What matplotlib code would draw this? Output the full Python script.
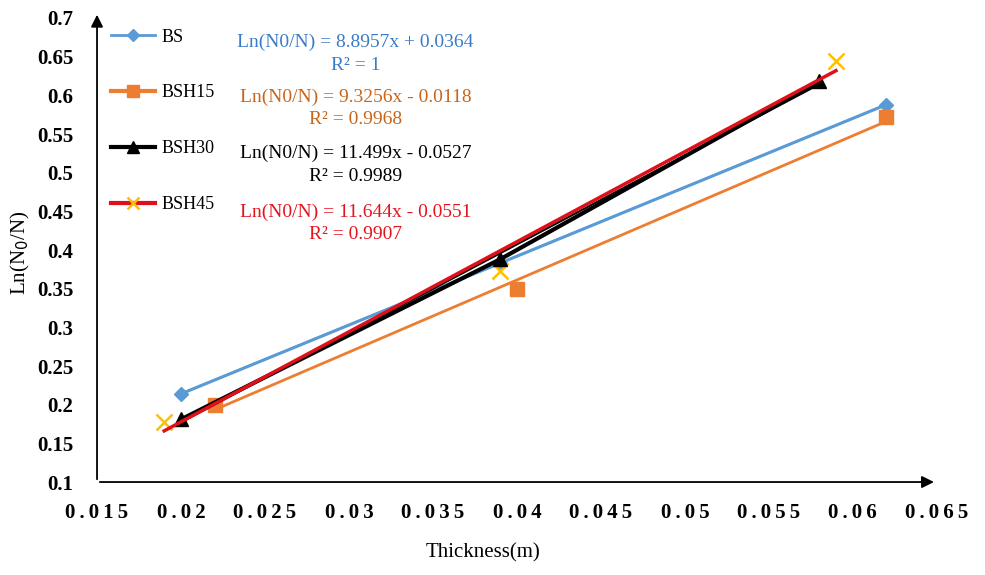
import matplotlib
matplotlib.use("Agg")
import matplotlib.pyplot as plt
from matplotlib.lines import Line2D
import numpy as np

plt.rcParams["font.family"] = ["Liberation Serif", "DejaVu Serif"]

# data
series = ["BS", "BSH15", "BSH30", "BSH45"]
bs_x = [0.020, 0.039, 0.062]
bs_y = [0.214, 0.383, 0.588]
bsh15_x = [0.022, 0.040, 0.062]
bsh15_y = [0.200, 0.349, 0.572]
bsh30_x = [0.020, 0.039, 0.058]
bsh30_y = [0.181, 0.388, 0.618]
bsh45_x = [0.019, 0.039, 0.059]
bsh45_y = [0.178, 0.373, 0.645]

slopes = [8.8957, 9.3256, 11.499, 11.644]
intercepts = [0.0364, -0.0118, -0.0527, -0.0551]
r2 = ["1", "0.9968", "0.9989", "0.9907"]

x_ticks = [0.015, 0.02, 0.025, 0.03, 0.035, 0.04, 0.045, 0.05, 0.055, 0.06, 0.065]
y_ticks = [0.1, 0.15, 0.2, 0.25, 0.3, 0.35, 0.4, 0.45, 0.5, 0.55, 0.6, 0.65, 0.7]

BLUE, ORANGE, BLACK, RED, YELLOW = "#5B9BD5", "#ED7D31", "#000000", "#E0101A", "#FFC000"
TXT = ["#3A7BC8", "#C8651B", "#000000", "#E3141E"]

fig = plt.figure(figsize=(9.85, 5.75), dpi=100)
ax = fig.add_axes([0.0985, 0.1617, 0.8525, 0.807])

# series + linear trendlines
ax.plot(bs_x, bs_y, color=BLUE, lw=2.2, marker="D", ms=7, zorder=3)
xs = np.array([bs_x[0], bs_x[-1]])
ax.plot(xs, slopes[0] * xs + intercepts[0], color=BLUE, lw=1.5, zorder=2)

ax.plot(bsh15_x, bsh15_y, ls="none", color=ORANGE, marker="s", ms=10, zorder=3)
xs = np.array([bsh15_x[0], bsh15_x[-1]])
ax.plot(xs, slopes[1] * xs + intercepts[1], color=ORANGE, lw=2, zorder=2)

ax.plot(bsh30_x, bsh30_y, color=BLACK, lw=3, marker="^", ms=10, zorder=4)
xs = np.array([bsh30_x[0], bsh30_x[-1]])
ax.plot(xs, slopes[2] * xs + intercepts[2], color=BLACK, lw=1.5, zorder=4)

ax.plot(bsh45_x, bsh45_y, ls="none", color=YELLOW, marker="x", ms=11, mew=1.8, zorder=3)
xs = np.array([bsh45_x[0], bsh45_x[-1]])
ax.plot(xs, slopes[3] * xs + intercepts[3], color=RED, lw=2.5, zorder=5)

ax.set_xlim(0.015, 0.065)
ax.set_ylim(0.1, 0.7)
ax.set_xticks(x_ticks)
ax.set_xticklabels(["\u2009".join(f"{v:g}") for v in x_ticks], fontsize=15, fontweight="bold")
ax.set_yticks(y_ticks)
ax.set_yticklabels([f"{v:g}" for v in y_ticks], fontsize=15, fontweight="bold")
ax.tick_params(axis="y", length=0, pad=17)
ax.tick_params(axis="x", length=0, pad=15)

for s in ["top", "right", "left", "bottom"]:
    ax.spines[s].set_visible(False)
ax.annotate("", xy=(0, 1.013), xytext=(0, 0), xycoords="axes fraction",
            arrowprops=dict(arrowstyle="-|>", color="black", lw=1.3, mutation_scale=18))
ax.annotate("", xy=(1.0, 0), xytext=(0, 0), xycoords="axes fraction",
            arrowprops=dict(arrowstyle="-|>", color="black", lw=1.3, mutation_scale=18))

fig.text(483 / 985, 1 - 553 / 575, "Thickness(m)", fontsize=15, ha="center", va="center")
fig.text(20 / 985, 1 - 253 / 575, "Ln(N$_0$/N)", fontsize=15, rotation=90,
         ha="center", va="center")

handles = [
    Line2D([], [], color=BLUE, lw=2, marker="D", ms=6),
    Line2D([], [], color=ORANGE, lw=3, marker="s", ms=8),
    Line2D([], [], color=BLACK, lw=3, marker="^", ms=8),
    Line2D([], [], color=RED, lw=3, marker="x", ms=8, mec=YELLOW, mew=1.8),
]
ax.legend(handles, series, loc="upper left", bbox_to_anchor=(0.0167, 0.977),
          frameon=False, fontsize=13, handlelength=2.45, handletextpad=0.35,
          labelspacing=2.15, borderpad=0, borderaxespad=0)

eq_y = [0.668, 0.598, 0.525, 0.449]
for i in range(4):
    sign = "+" if intercepts[i] >= 0 else "-"
    ax.text(0.0304, eq_y[i], f"Ln(N0/N) = {slopes[i]:g}x {sign} {abs(intercepts[i]):.4f}",
            color=TXT[i], fontsize=14, ha="center", va="center")
    ax.text(0.0304, eq_y[i] - 0.0295, f"R² = {r2[i]}",
            color=TXT[i], fontsize=14, ha="center", va="center")

fig.savefig("out.png", dpi=100)
